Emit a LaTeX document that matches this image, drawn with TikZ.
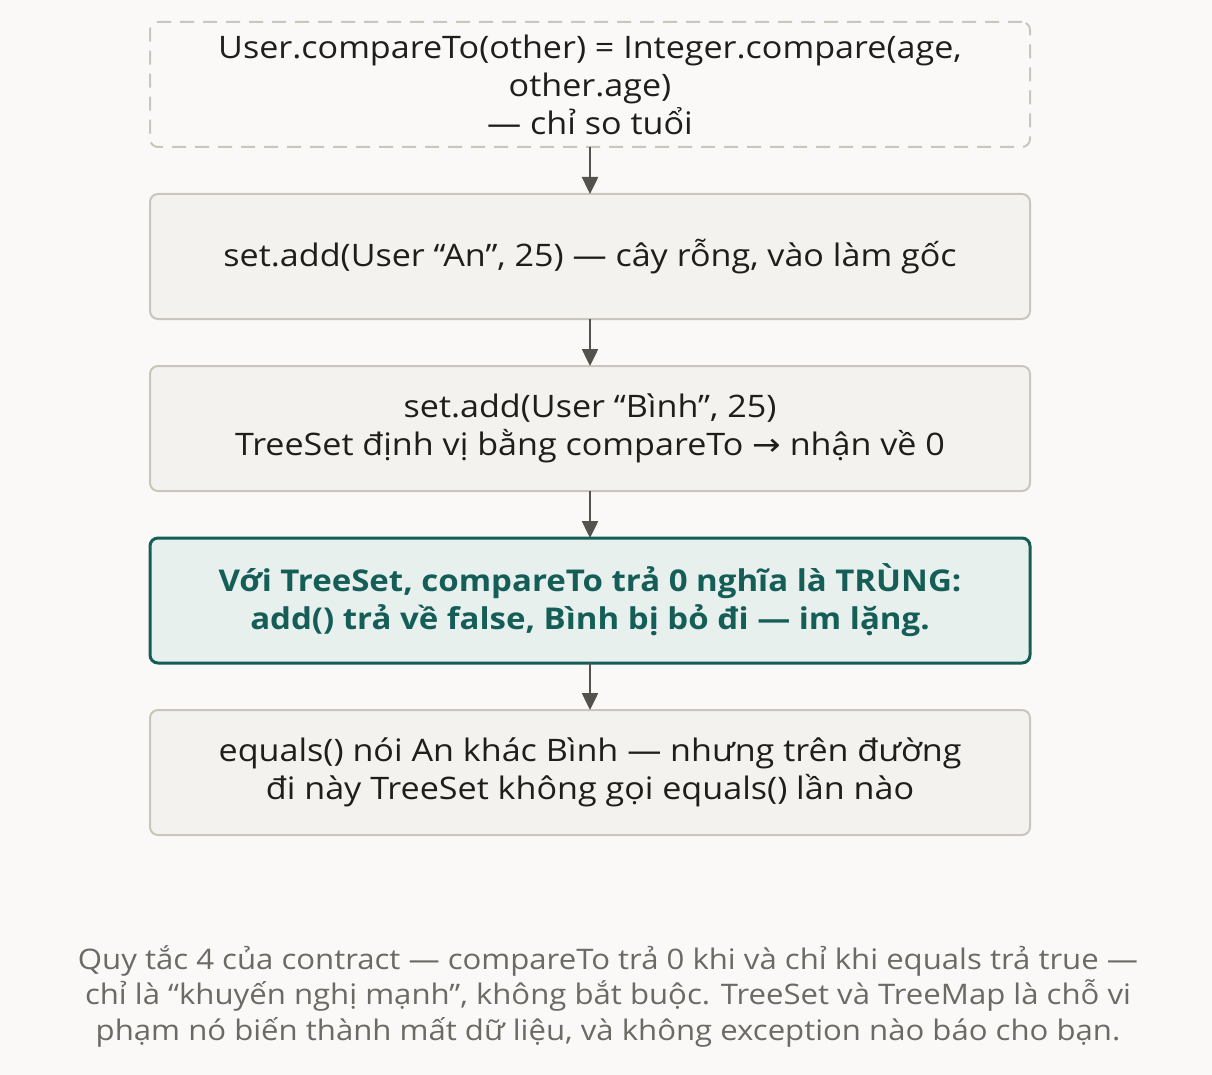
\documentclass[tikz,border=0pt]{standalone}
\usepackage{fontspec}
\setmainfont{Open Sans}[FakeStretch=1.1]
\newfontfamily\symfont{DejaVu Sans}[FakeStretch=1.1]
\usepackage{tikz}
\usetikzlibrary{positioning,arrows.meta}

\definecolor{bgcol}{HTML}{FAF9F7}
\definecolor{boxfill}{HTML}{F3F2EE}
\definecolor{boxline}{HTML}{CAC6BE}
\definecolor{inkcol}{HTML}{1F1E1C}
\definecolor{keyfill}{HTML}{E8F0EE}
\definecolor{keyline}{HTML}{155E57}
\definecolor{arrowcol}{HTML}{55524D}
\definecolor{notecol}{HTML}{6B6A64}

\begin{document}
\begin{tikzpicture}[x=1pt,y=1pt,node distance=47pt]
	\tikzstyle{box}=[draw=boxline, line width=2pt, fill=boxfill, rounded corners=8pt, minimum width=880pt, minimum height=125pt, inner sep=0pt, outer sep=0pt, align=center, text=inkcol, font=\fontsize{31}{38}\selectfont]
	\tikzstyle{rulebox}=[box, fill=bgcol, dash pattern=on 14pt off 9pt]
	\tikzstyle{keybox}=[box, draw=keyline, line width=3pt, fill=keyfill, text=keyline, font=\fontsize{30}{38}\selectfont\bfseries]
	\tikzstyle{flow}=[-{Triangle[width=16pt,length=17pt]}, draw=arrowcol, line width=2.5pt]
		\fill[bgcol] (0,0) rectangle (1212,-1075);
		\useasboundingbox (0,0) rectangle (1212,-1075);
		\node[rulebox] (rule) at (590,-84.5) {User.compareTo(other) = Integer.compare(age,\\ other.age)\\ — chỉ so tuổi};
		\node[box, below=of rule] (addan) {set.add(User “An”, 25) — cây rỗng, vào làm gốc};
		\node[box, below=of addan] (addbinh) {set.add(User “Bình”, 25)\\ TreeSet định vị bằng compareTo {\symfont →} nhận về 0};
		\node[keybox, below=of addbinh] (dup) {Với TreeSet, compareTo trả 0 nghĩa là TRÙNG:\\ add() trả về false, Bình bị bỏ đi — im lặng.};
		\node[box, below=of dup] (eq) {equals() nói An khác Bình — nhưng trên đường\\ đi này TreeSet không gọi equals() lần nào};
			\draw[flow] (rule) -- (addan);
			\draw[flow] (addan) -- (addbinh);
			\draw[flow] (addbinh) -- (dup);
			\draw[flow] (dup) -- (eq);
		\node[text=notecol, align=center, font=\fontsize{28.3}{35.5}\selectfont] (note) at (608,-996) {Quy tắc 4 của contract — compareTo trả 0 khi và chỉ khi equals trả true —\\ chỉ là “khuyến nghị mạnh”, không bắt buộc. TreeSet và TreeMap là chỗ vi\\ phạm nó biến thành mất dữ liệu, và không exception nào báo cho bạn.};
\end{tikzpicture}
\end{document}
